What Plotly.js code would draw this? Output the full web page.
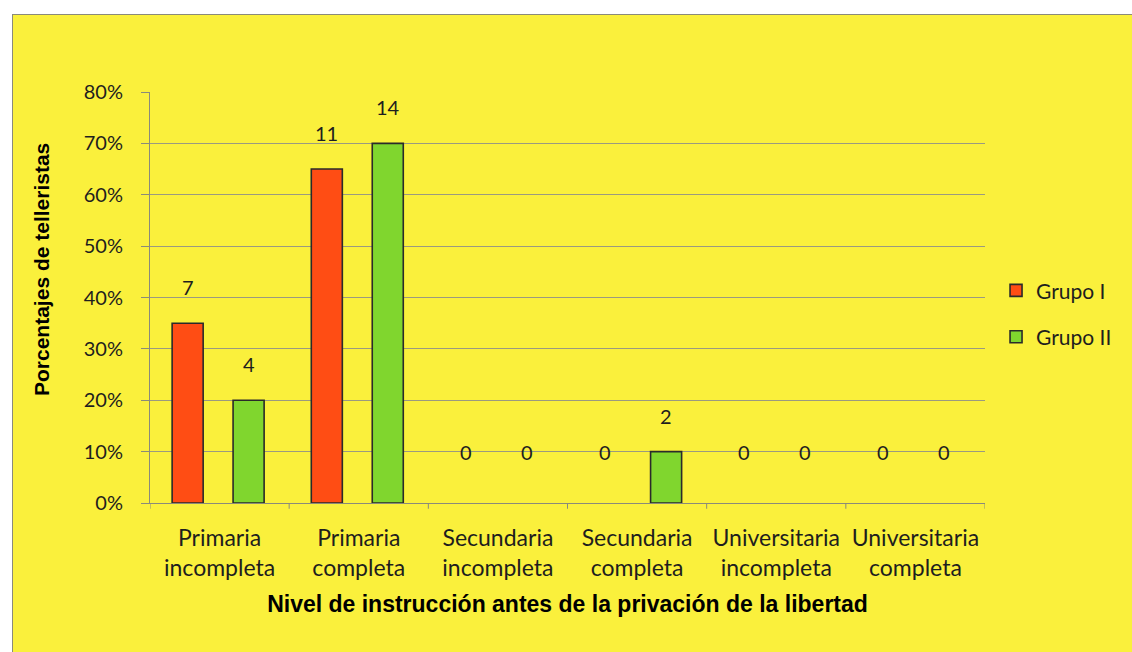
<!DOCTYPE html>
<html>
<head>
<meta charset="utf-8">
<script src="https://cdn.plot.ly/plotly-3.0.1.min.js"></script>
<style>
  html, body { margin: 0; padding: 0; background: #ffffff; width: 1132px; height: 652px; overflow: hidden; }
  #frame { position: absolute; left: 12px; top: 14px; width: 1120px; height: 638px;
           border-left: 1px solid #8a8a7a; border-top: 1px solid #8a8a7a; box-sizing: border-box; }
  #chart { width: 1119px; height: 637px; }
</style>
</head>
<body>
<div id="frame"><div id="chart"></div></div>
<script>
// Categories (education level)
const categories = [
  "Primaria<br>incompleta",
  "Primaria<br>completa",
  "Secundaria<br>incompleta",
  "Secundaria<br>completa",
  "Universitaria<br>incompleta",
  "Universitaria<br>completa"
];
// Bar heights (percent of participants)
const grupoIPct  = [35, 65, 0, 0, 0, 0];
const grupoIIPct = [20, 70, 0, 10, 0, 0];
// Data labels (counts)
const grupoICount  = [7, 11, 0, 0, 0, 0];
const grupoIICount = [4, 14, 0, 2, 0, 0];
const seriesNames = ["Grupo I", "Grupo II"];
const yTickVals = [0, 10, 20, 30, 40, 50, 60, 70, 80];
const yTickText = ["0%", "10%", "20%", "30%", "40%", "50%", "60%", "70%", "80%"];
const xTitle = "Nivel de instrucción antes de la privación de la libertad";
const yTitle = "Porcentajes de telleristas";

const BAR_W = 0.223;
const OFF_I = -0.341;
const OFF_II = 0.097;
const RED = "#ff4d14";
const GREEN = "#80d62e";
const TXT = "#1e1e1e";
const FONT = "Lato, 'Open Sans', sans-serif";
const BOLD_FONT = "'Liberation Sans', Arial, sans-serif";

const idx = categories.map((c, i) => i);
const lineW = vals => vals.map(v => (v > 0 ? 1.6 : 0));

const traces = [
  {
    type: "bar", name: seriesNames[0], legendgroup: "g1",
    x: idx, y: grupoIPct, width: BAR_W, offset: OFF_I,
    marker: { color: RED, line: { color: "#2a2a2a", width: lineW(grupoIPct) } },
    hoverinfo: "skip"
  },
  {
    type: "bar", name: seriesNames[1], legendgroup: "g2",
    x: idx, y: grupoIIPct, width: BAR_W, offset: OFF_II,
    marker: { color: GREEN, line: { color: "#2a2a2a", width: lineW(grupoIIPct) } },
    hoverinfo: "skip"
  }
];

const annotations = [];
function addLabels(vals, counts, off) {
  vals.forEach((v, i) => {
    annotations.push({
      x: i + off + BAR_W / 2, y: Math.max(v + 7, 10),
      xref: "x", yref: "y", text: String(counts[i]), showarrow: false,
      xanchor: "center", yanchor: "middle",
      font: { family: FONT, size: 20, color: TXT }
    });
  });
}
addLabels(grupoIPct, grupoICount, OFF_I);
addLabels(grupoIIPct, grupoIICount, OFF_II);

// Y axis title (placed as rotated text, as in the original)
annotations.push({
  xref: "paper", yref: "paper", x: -0.1293, y: 0.567,
  xanchor: "center", yanchor: "middle", textangle: -90, showarrow: false,
  text: yTitle,
  font: { family: BOLD_FONT, size: 21, color: "#000", weight: "bold" }
});

const layout = {
  width: 1119, height: 637,
  paper_bgcolor: "#faf03c",
  plot_bgcolor: "#faf03c",
  margin: { l: 137, r: 147, t: 77, b: 149, pad: 0, autoexpand: false },
  barmode: "group",
  showlegend: true,
  legend: {
    xref: "container", yref: "container",
    x: 0.8785, xanchor: "left", y: 0.531, yanchor: "middle",
    bgcolor: "rgba(0,0,0,0)",
    font: { family: FONT, size: 21, color: TXT },
    tracegroupgap: 16, itemwidth: 30
  },
  xaxis: {
    type: "linear",
    range: [-0.5, 5.5],
    tickvals: idx, ticktext: categories,
    ticks: "", showgrid: false, zeroline: false,
    showline: true, linecolor: "#8a8a7a", linewidth: 1,
    tickfont: { family: FONT, size: 23, color: TXT },
    ticklabelstandoff: 14,
    title: { text: xTitle,
             font: { family: BOLD_FONT, size: 23, color: "#000", weight: "bold" },
             standoff: 16 }
  },
  yaxis: {
    range: [0, 80],
    tickvals: yTickVals, ticktext: yTickText,
    ticks: "outside", ticklen: 8, tickcolor: "#8a8a7a",
    showgrid: true, gridcolor: "#9a9a80", gridwidth: 1,
    zeroline: false,
    showline: true, linecolor: "#8a8a7a", linewidth: 1,
    tickfont: { family: FONT, size: 20, color: TXT },
    ticklabelstandoff: 14
  },
  shapes: [0.5, 1.5, 2.5, 3.5, 4.5, 5.5, -0.5].map(b => ({
    type: "line", xref: "x", yref: "paper", x0: b, x1: b, y0: 0, y1: -0.014,
    line: { color: "#8a8a7a", width: 1 }
  })),
  annotations: annotations
};

Plotly.newPlot("chart", traces, layout, { displayModeBar: false, staticPlot: true });
</script>
</body>
</html>
